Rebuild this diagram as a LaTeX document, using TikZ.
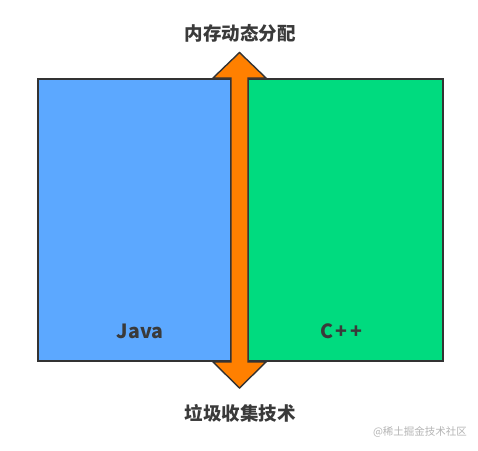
\documentclass[tikz,border=0pt]{standalone}
\usepackage{fontspec}
\newfontfamily\cjk{Noto Sans CJK SC}
\usepackage{tikz}
\usetikzlibrary{positioning}
\definecolor{javablue}{HTML}{5CA8FF}
\definecolor{cppgreen}{HTML}{00DB7F}
\definecolor{arroworange}{HTML}{FF8000}
\definecolor{edgegray}{HTML}{333333}
\definecolor{textgray}{HTML}{3A3A3A}
\definecolor{wmgray}{HTML}{B4B4B4}
\begin{document}
\begin{tikzpicture}[x=1pt, y=-1pt, line width=1.4pt,
    box/.style={draw=edgegray, minimum height=282pt, inner sep=0pt},
    lang/.style={font=\cjk\bfseries\fontsize{19.5}{22}\selectfont, text=textgray},
    topic/.style={font=\cjk\bfseries\fontsize{18.5}{21}\selectfont, text=textgray}]
    \useasboundingbox (0,0) rectangle (478,450);

    \node[box, fill=javablue, minimum width=193pt] (java) at (134.5,220) {};
    \node[box, fill=cppgreen, minimum width=195pt] (cpp) at (345.5,220) {};

    \node[lang] (javatext) at (140,331) {Java};
    \node[lang] (cpptext) at (341,331) {C\kern2pt+\kern3pt+};

    \coordinate (up) at (239.5,52.5);
    \coordinate (down) at (239.5,388);
    \draw[draw=edgegray, fill=arroworange, line join=miter]
        (up) -- ++(26.5,25.5) -- ++(-18,0) -- ++(0,284) -- ++(18,0)
        -- (down) -- ++(-26.5,-26) -- ++(18,0) -- ++(0,-284) -- ++(-18,0) -- cycle;

    \node[topic] (alloc) at (240,33) {内存动态分配};
    \node[topic] (gc) at (240,413) {垃圾收集技术};

    \node[font=\cjk\fontsize{10.5}{12}\selectfont, text=wmgray] (mark) at (420,432) {@稀土掘金技术社区};
\end{tikzpicture}
\end{document}
